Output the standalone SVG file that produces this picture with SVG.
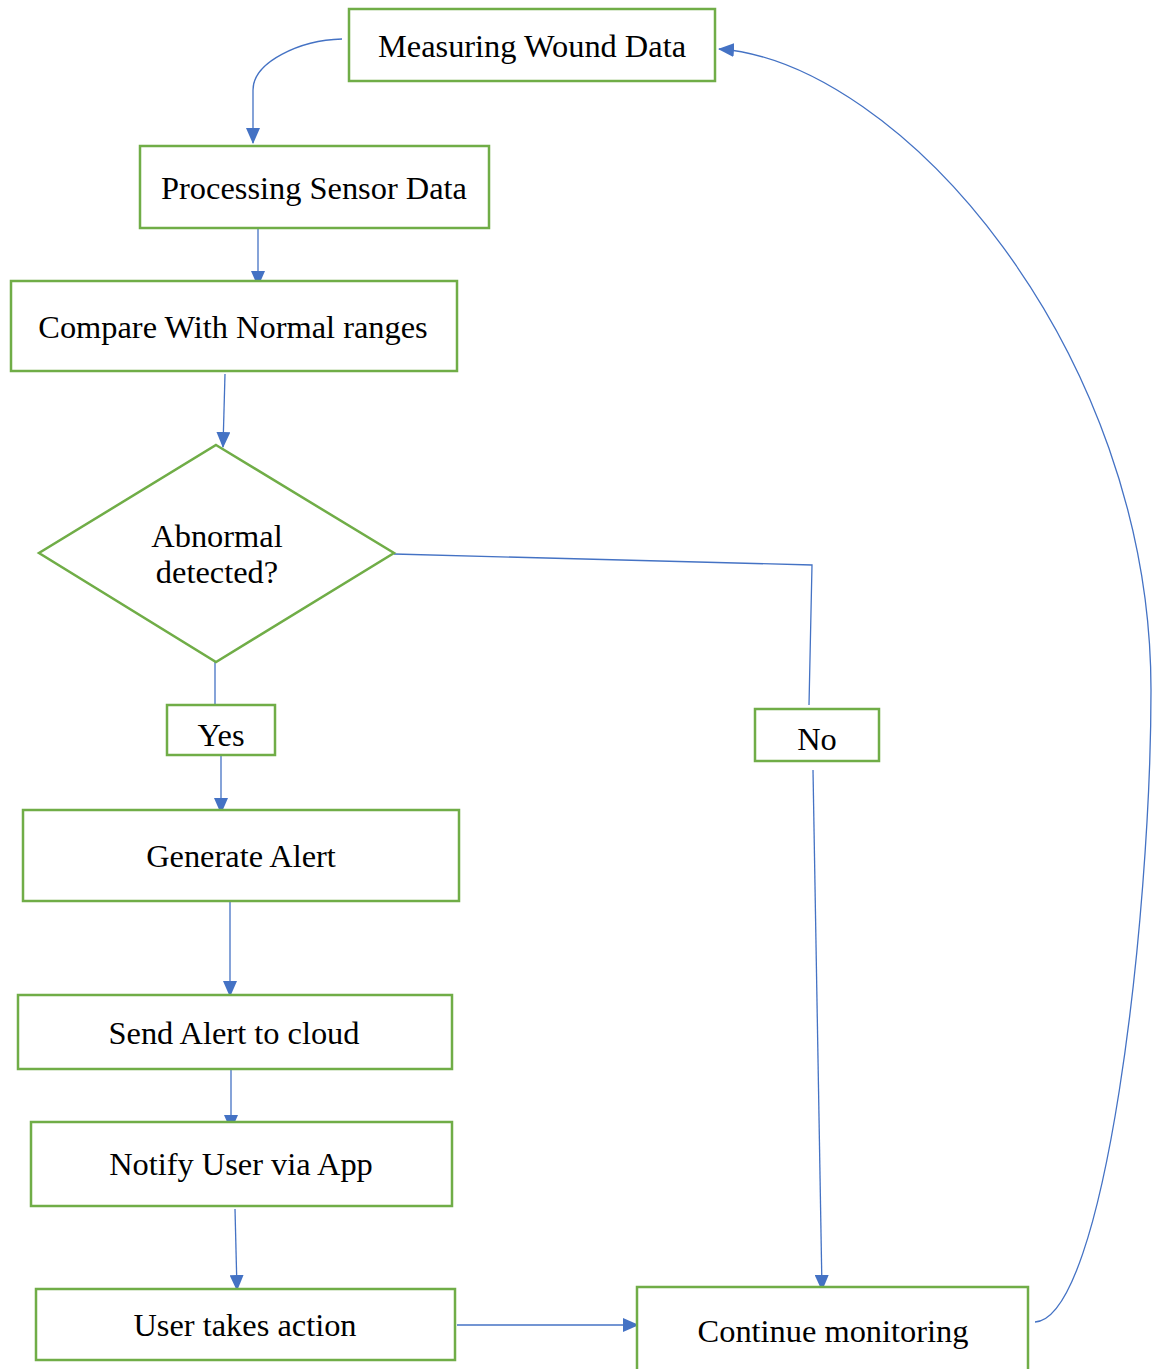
<svg xmlns="http://www.w3.org/2000/svg" width="1152" height="1369" viewBox="0 0 1152 1369">
  <style>
    .box { fill: #ffffff; stroke: #70ad47; stroke-width: 2.5; }
    .lbl { font-family: "Liberation Serif", "Times New Roman", serif; font-size: 32.4px; fill: #000000; text-anchor: middle; }
    .wire { fill: none; stroke: #4472c4; stroke-width: 1.3; }
  </style>
  <defs>
    <marker id="arrow" markerUnits="userSpaceOnUse" markerWidth="16" markerHeight="14" refX="15" refY="7" orient="auto">
      <path d="M0,0 L16,7 L0,14 Z" fill="#4472c4"/>
    </marker>
  </defs>
  <rect width="1152" height="1369" fill="#ffffff"/>

  <g id="connectors">
    <path class="wire" d="M342,39 C300,40 253,62 253,90 L253,143" marker-end="url(#arrow)"/>
    <path class="wire" d="M258,222 L258,286" marker-end="url(#arrow)"/>
    <path class="wire" d="M225,374 L223,447" marker-end="url(#arrow)"/>
    <path class="wire" d="M215,662 L215,705"/>
    <path class="wire" d="M221,755 L221,813" marker-end="url(#arrow)"/>
    <path class="wire" d="M394,554 L812,565 L809,705"/>
    <path class="wire" d="M813,770 L822,1290" marker-end="url(#arrow)"/>
    <path class="wire" d="M230,901 L230,996" marker-end="url(#arrow)"/>
    <path class="wire" d="M231,1069 L231,1130" marker-end="url(#arrow)"/>
    <path class="wire" d="M235,1209 L237,1290" marker-end="url(#arrow)"/>
    <path class="wire" d="M457,1325 L638,1325" marker-end="url(#arrow)"/>
    <path class="wire" d="M1035,1322 C1105,1318 1151,920 1151,690 C1151,350 900,62 719,49" marker-end="url(#arrow)"/>
  </g>

  <g id="measuring">
    <rect class="box" x="349" y="9" width="366" height="72"/>
    <text class="lbl" x="532" y="57">Measuring Wound Data</text>
  </g>
  <g id="processing">
    <rect class="box" x="140" y="146" width="349" height="82"/>
    <text class="lbl" x="314" y="199">Processing Sensor Data</text>
  </g>
  <g id="compare">
    <rect class="box" x="11" y="281" width="446" height="90"/>
    <text class="lbl" x="233" y="338">Compare With Normal ranges</text>
  </g>
  <g id="abnormal">
    <polygon class="box" points="216,445 394,553 216,662 39,553"/>
    <text class="lbl" x="217" y="547">Abnormal</text>
    <text class="lbl" x="217" y="583">detected?</text>
  </g>
  <g id="yes">
    <rect class="box" x="167" y="705" width="108" height="50"/>
    <text class="lbl" x="221" y="746">Yes</text>
  </g>
  <g id="no">
    <rect class="box" x="755" y="709" width="124" height="52"/>
    <text class="lbl" x="817" y="750">No</text>
  </g>
  <g id="generate">
    <rect class="box" x="23" y="810" width="436" height="91"/>
    <text class="lbl" x="241" y="867">Generate Alert</text>
  </g>
  <g id="send">
    <rect class="box" x="18" y="995" width="434" height="74"/>
    <text class="lbl" x="234" y="1044">Send Alert to cloud</text>
  </g>
  <g id="notify">
    <rect class="box" x="31" y="1122" width="421" height="84"/>
    <text class="lbl" x="241" y="1175">Notify User via App</text>
  </g>
  <g id="action">
    <rect class="box" x="36" y="1289" width="419" height="71"/>
    <text class="lbl" x="245" y="1336">User takes action</text>
  </g>
  <g id="continue">
    <rect class="box" x="637" y="1287" width="391" height="95"/>
    <text class="lbl" x="833" y="1342">Continue monitoring</text>
  </g>
</svg>
